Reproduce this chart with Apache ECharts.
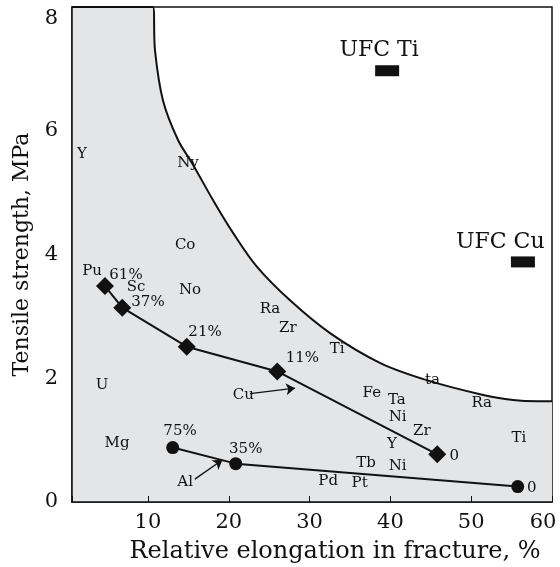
<!DOCTYPE html>
<html>
<head>
<meta charset="utf-8">
<script src="https://cdn.jsdelivr.net/npm/echarts@6/dist/echarts.min.js"></script>
<style>
  html, body { margin: 0; padding: 0; background: #fff; }
  #chart { width: 560px; height: 567px; }
</style>
</head>
<body>
<div id="chart"></div>
<script>
// boundary of the grey region (upper-left is all grey)
const curveX = [0.6, 10.62, 10.87, 11.86, 13.72, 15.45, 18.05, 20.53, 23.5, 27.58, 32.53, 38.7, 44.5, 51.5, 55.2, 58.15, 60];
const curveY = [8, 8, 7.3, 6.49, 5.85, 5.48, 4.88, 4.35, 3.8, 3.26, 2.73, 2.25, 1.97, 1.73, 1.65, 1.63, 1.63];

// diamond line (Cu)
const cuX = [4.68, 6.82, 14.8, 26.0, 45.8];
const cuY = [3.49, 3.14, 2.51, 2.11, 0.77];

// circle line (Al)
const alX = [13.06, 20.86, 55.76];
const alY = [0.88, 0.62, 0.25];

// UFC markers
const ufcNames = ['UFC Ti', 'UFC Cu'];
const ufcX = [39.6, 56.4];
const ufcY = [6.97, 3.88];
const ufcLabelX = [38.6, 53.6];
const ufcLabelY = [7.3, 4.19];

// element names and percentages
const textNames = ['Y', 'Ny', 'Co', 'No', 'Pu', '61%', 'Sc', '37%', '21%', 'Ra', 'Zr', '11%', 'Ti', 'U', 'Cu', 'Mg', '75%', '35%', 'Al',
  'Fe', 'Ta', 'ta', 'Ra', 'Ni', 'Zr', 'Y', '0', 'Ti', 'Tb', 'Ni', 'Pd', 'Pt', '0'];
const textX = [1.84, 14.96, 14.6, 15.2, 3.08, 7.28, 8.52, 10.0, 17.06, 25.1, 27.3, 29.1, 33.4, 4.31, 21.8, 6.17, 13.97, 22.1, 14.6,
  37.7, 40.8, 45.2, 51.3, 40.9, 43.9, 40.2, 47.9, 55.9, 37.0, 40.9, 32.3, 36.2, 57.5];
const textY = [5.62, 5.48, 4.15, 3.43, 3.73, 3.67, 3.47, 3.23, 2.75, 3.12, 2.81, 2.33, 2.47, 1.89, 1.73, 0.95, 1.15, 0.86, 0.32,
  1.76, 1.65, 1.97, 1.6, 1.37, 1.15, 0.94, 0.74, 1.03, 0.63, 0.58, 0.34, 0.31, 0.23];

// arrows from labels to lines
const arrowFrom = [[22.65, 1.75], [15.8, 0.37]];
const arrowTo = [[28.2, 1.84], [19.2, 0.68]];

const serif = 'DejaVu Serif';
const ink = '#111';

function zip(xs, ys) {
  return xs.map((x, i) => [x, ys[i]]);
}

let chart = echarts.init(document.getElementById('chart'));

let option = {
  animation: false,
  grid: {
    left: 72, right: 8, top: 7, bottom: 65,
    outerBoundsMode: 'none', containLabel: false,
    show: true, borderColor: ink, borderWidth: 1.5, backgroundColor: 'transparent'
  },
  xAxis: {
    type: 'value', min: 0.6, max: 60, splitNumber: 6, z: 10,
    name: 'Relative elongation in fracture, %',
    nameLocation: 'middle', nameGap: 38,
    nameTextStyle: { fontFamily: serif, fontSize: 24, color: ink, padding: [0, 0, 0, 46] },
    axisLine: { lineStyle: { color: ink, width: 1.5 } },
    axisTick: { inside: true, length: 6, lineStyle: { color: ink } },
    splitLine: { show: false },
    axisLabel: {
      margin: 10, fontFamily: serif, fontSize: 21, color: ink,
      showMinLabel: true, showMaxLabel: true,
      formatter: v => {
        if (Math.abs(v % 10) > 1e-6) return '';
        if (v === 60) return '{r|60}';
        return String(v);
      },
      rich: { r: { fontFamily: serif, fontSize: 21, color: ink, padding: [0, 18, 0, 0] } }
    }
  },
  yAxis: {
    type: 'value', min: 0, max: 8, interval: 2, z: 10,
    name: 'Tensile strength, MPa',
    nameLocation: 'middle', nameGap: 39,
    nameTextStyle: { fontFamily: serif, fontSize: 22, color: ink },
    axisLine: { lineStyle: { color: ink, width: 1.5 } },
    axisTick: { show: false },
    splitLine: { show: false },
    axisLabel: {
      margin: 14, fontFamily: serif, fontSize: 21, color: ink,
      formatter: v => (v === 8 ? '{t|8}' : String(v)),
      rich: { t: { fontFamily: serif, fontSize: 21, color: ink, padding: [24, 0, 0, 0] } }
    }
  },
  series: [
    {
      // grey region and its boundary
      type: 'line',
      data: zip(curveX, curveY),
      symbol: 'none',
      smooth: 0.35,
      lineStyle: { color: ink, width: 2 },
      areaStyle: { color: '#e4e5e7', opacity: 1, origin: 'start' },
      z: 1
    },
    {
      type: 'line',
      data: zip(cuX, cuY),
      symbol: 'diamond',
      symbolSize: 18,
      itemStyle: { color: ink, opacity: 1 },
      lineStyle: { color: ink, width: 2 },
      z: 5
    },
    {
      type: 'line',
      data: zip(alX, alY),
      symbol: 'circle',
      symbolSize: 13,
      itemStyle: { color: ink, opacity: 1 },
      lineStyle: { color: ink, width: 2 },
      z: 5
    },
    {
      type: 'scatter',
      data: zip(ufcX, ufcY),
      symbol: 'rect',
      symbolSize: [24, 11],
      itemStyle: { color: ink, opacity: 1 },
      z: 5
    },
    {
      type: 'scatter',
      data: ufcNames.map((n, i) => ({ name: n, value: [ufcLabelX[i], ufcLabelY[i]] })),
      symbolSize: 1,
      itemStyle: { color: 'transparent', opacity: 1 },
      label: {
        show: true, position: 'inside', formatter: p => p.name,
        fontFamily: serif, fontSize: 22, color: ink, opacity: 1
      },
      z: 6
    },
    {
      type: 'scatter',
      data: textNames.map((n, i) => ({ name: n, value: [textX[i], textY[i]] })),
      symbolSize: 1,
      itemStyle: { color: 'transparent', opacity: 1 },
      label: {
        show: true, position: 'inside', formatter: p => p.name,
        fontFamily: serif, fontSize: 15, color: ink, opacity: 1
      },
      z: 6
    },
    {
      type: 'lines',
      coordinateSystem: 'cartesian2d',
      data: arrowFrom.map((f, i) => ({ coords: [f, arrowTo[i]] })),
      symbol: ['none', 'arrow'],
      symbolSize: 9,
      lineStyle: { color: ink, width: 1.3, opacity: 1 },
      z: 6
    }
  ]
};

chart.setOption(option);
window.addEventListener('resize', function () {
  chart.resize();
});
</script>
</body>
</html>
